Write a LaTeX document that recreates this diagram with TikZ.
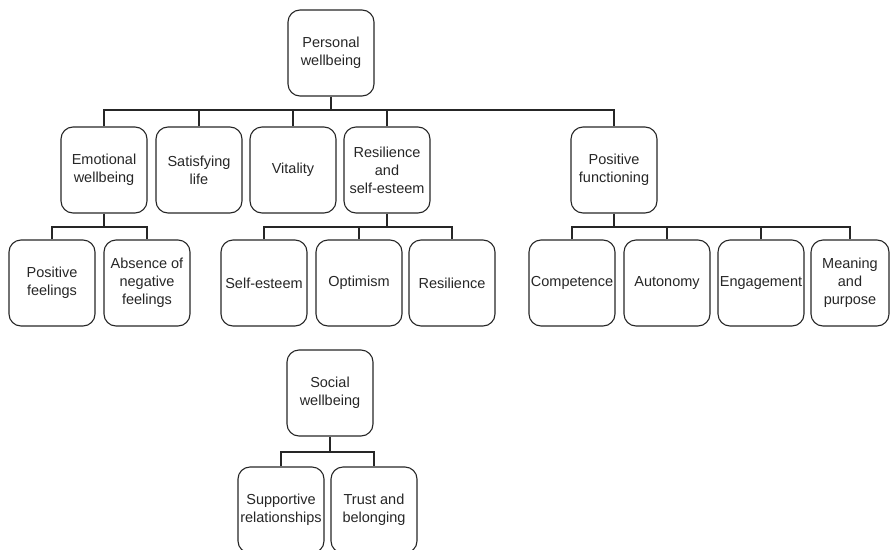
\documentclass[tikz,border=0pt]{standalone}
\usepackage{fontspec}
\setmainfont{Liberation Sans}
\begin{document}
\begin{tikzpicture}[x=1pt,y=-1pt,
  box/.style={draw=black!85, line width=1.1pt, rounded corners=12pt,
    minimum width=86pt, minimum height=86pt, inner sep=1pt, align=center,
    font=\fontsize{14.5}{18}\selectfont, text=black!85},
  link/.style={draw=black!85, line width=2pt}]
\useasboundingbox (0,0) rectangle (891,549);
\clip (0,0) rectangle (891,549);

% Personal wellbeing tree
\node[box] (pw) at (331,53) {Personal\\wellbeing};
\node[box] (ew) at (104,170) {Emotional\\wellbeing};
\node[box] (sl) at (199,170) {Satisfying\\life};
\node[box] (vi) at (293,170) {Vitality};
\node[box] (rs) at (387,170) {Resilience\\and\\self-esteem};
\node[box] (pf) at (614,170) {Positive\\functioning};

\node[box] (pfe) at (52,283) {Positive\\feelings};
\node[box] (anf) at (147,283) {Absence of\\negative\\feelings};
\node[box] (se) at (264,283) {Self-esteem};
\node[box] (op) at (359,283) {Optimism};
\node[box] (re) at (452,283) {Resilience};
\node[box] (co) at (572,283) {Competence};
\node[box] (au) at (667,283) {Autonomy};
\node[box] (en) at (761,283) {Engagement};
\node[box, minimum width=78pt] (mp) at (850,283) {Meaning\\and\\purpose};

% Social wellbeing tree
\node[box] (sw) at (330,393) {Social\\wellbeing};
\node[box] (sr) at (281,510) {Supportive\\relationships};
\node[box] (tb) at (374,510) {Trust and\\belonging};

% bus levels
\coordinate (b1) at (0,110);
\coordinate (b2) at (0,227);
\coordinate (b3) at (0,452);

\draw[link] (pw.south) -- (pw.south |- b1);
\draw[link] (ew.north) |- (b1 -| pf.north) -- (pf.north);
\foreach \n in {sl,vi,rs} \draw[link] (\n.north) -- (\n.north |- b1);

\draw[link] (ew.south) -- (ew.south |- b2);
\draw[link] (pfe.north) |- (b2 -| anf.north) -- (anf.north);

\draw[link] (rs.south) -- (rs.south |- b2);
\draw[link] (se.north) |- (b2 -| re.north) -- (re.north);
\draw[link] (op.north) -- (op.north |- b2);

\draw[link] (pf.south) -- (pf.south |- b2);
\draw[link] (co.north) |- (b2 -| mp.north) -- (mp.north);
\foreach \n in {au,en} \draw[link] (\n.north) -- (\n.north |- b2);

\draw[link] (sw.south) -- (sw.south |- b3);
\draw[link] (sr.north) |- (b3 -| tb.north) -- (tb.north);
\end{tikzpicture}
\end{document}
